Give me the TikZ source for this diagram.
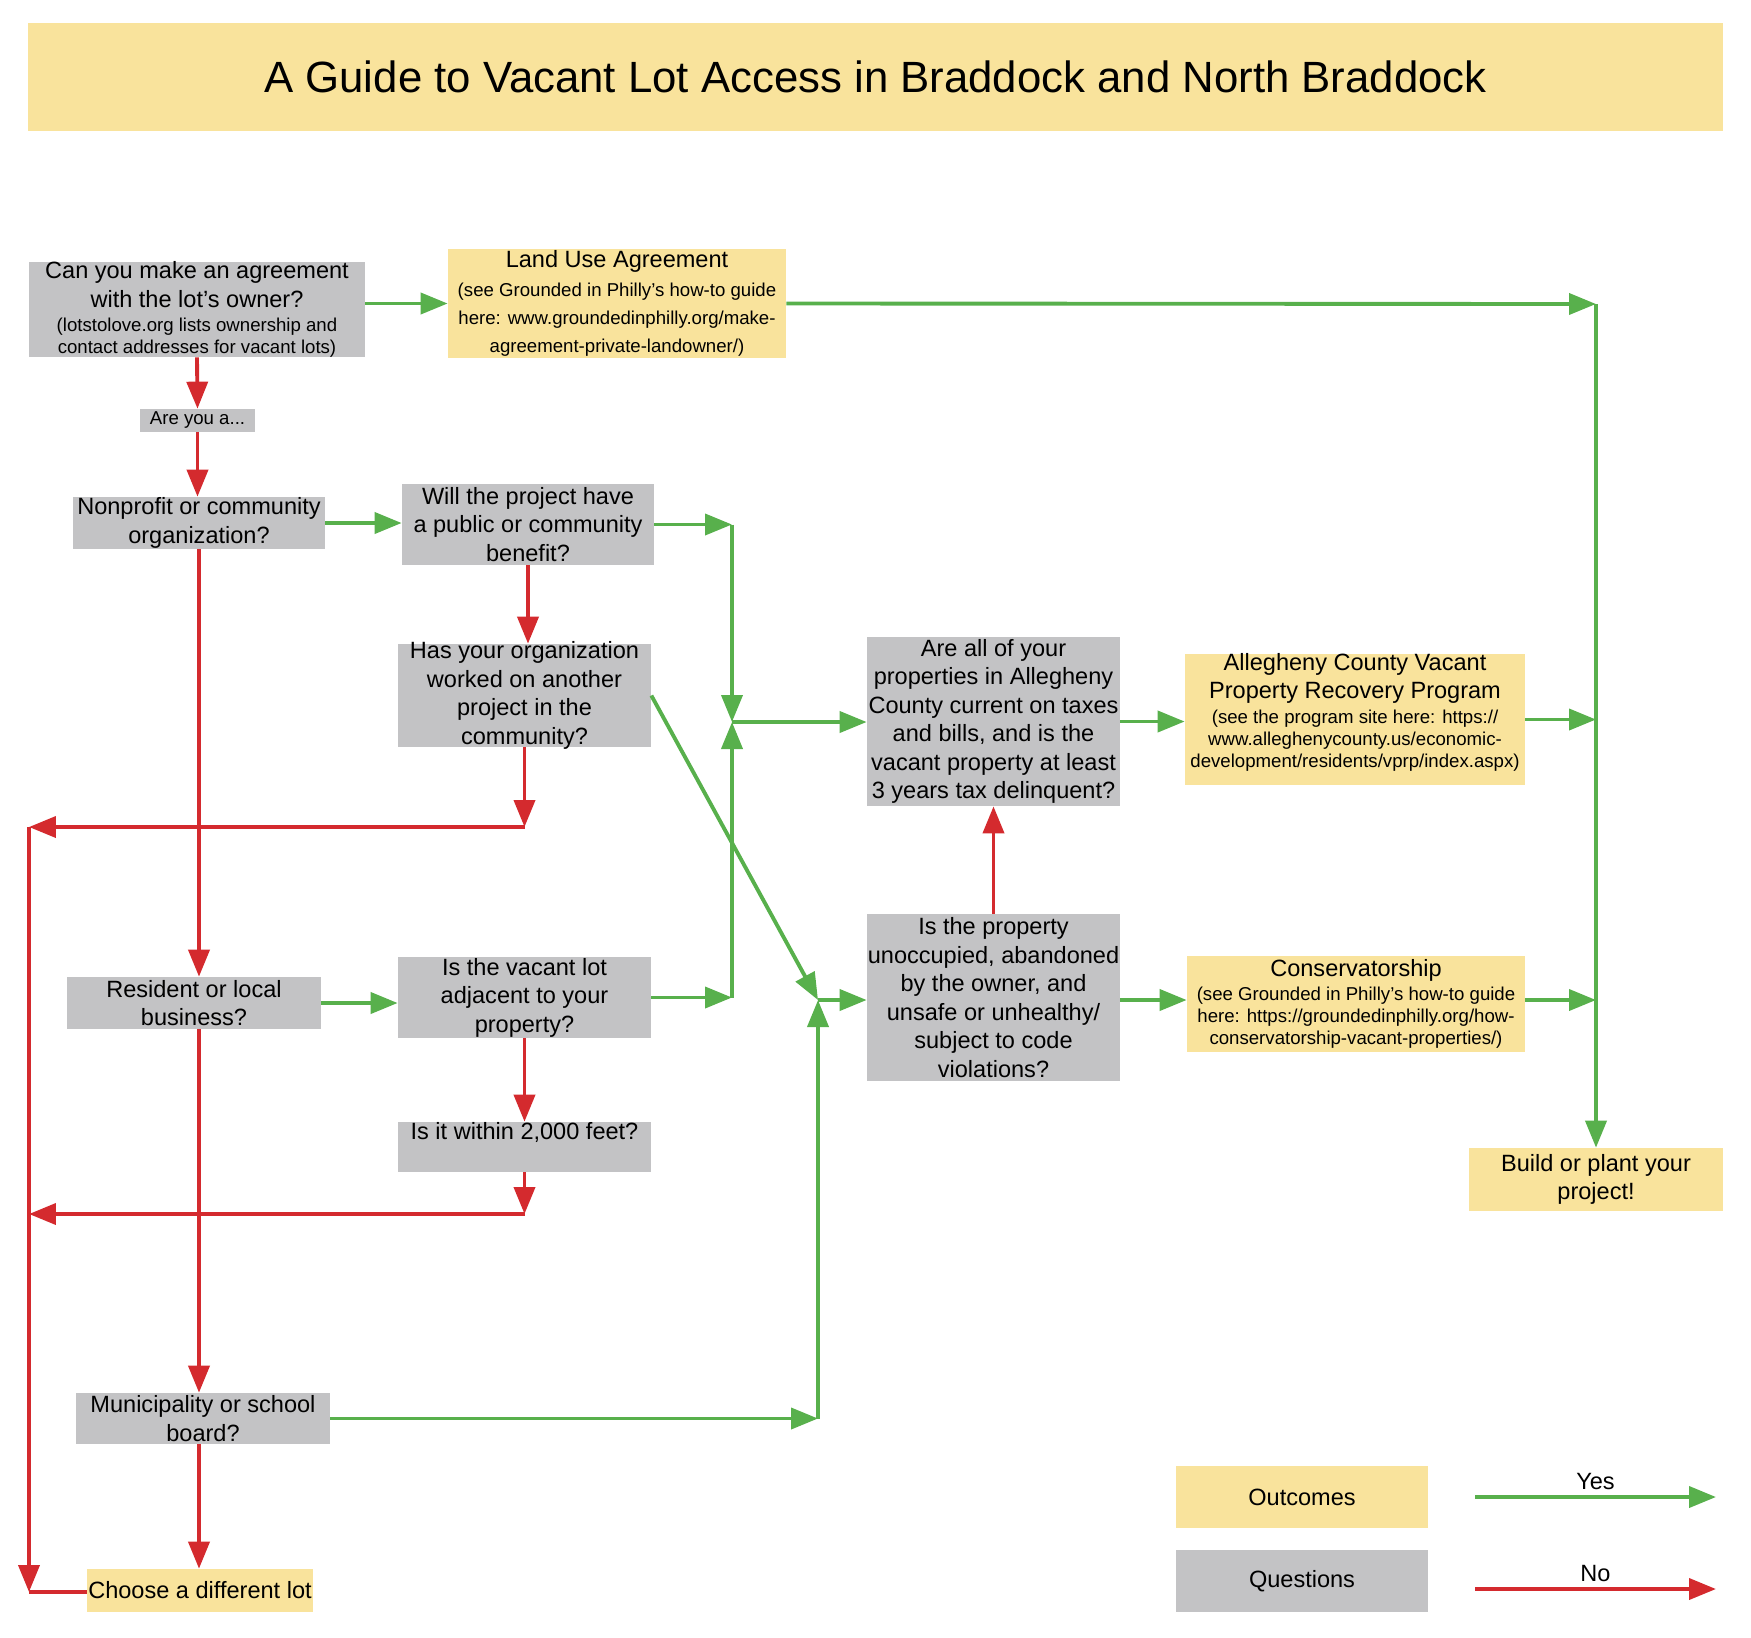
\documentclass[tikz,border=0pt]{standalone}
\usepackage{fontspec}
\setmainfont{Liberation Sans}
\usetikzlibrary{fit}
\usetikzlibrary{arrows.meta}
\definecolor{qgray}{RGB}{195,195,197}
\definecolor{oyellow}{RGB}{249,227,156}
\definecolor{ygreen}{RGB}{88,176,76}
\definecolor{nred}{RGB}{212,42,46}
\newcommand{\mainsize}{\fontsize{13.4}{16.2}\selectfont}
\newcommand{\notesize}{\fontsize{10.6}{12.7}\selectfont}
\newcommand{\widenote}{\fontsize{10.6}{16}\selectfont}
\tikzset{qbox/.style={rectangle, fill=qgray, inner sep=0pt}}
\tikzset{obox/.style={rectangle, fill=oyellow, inner sep=0pt}}
\tikzset{every label/.style={align=center, inner sep=0pt, font=\mainsize}}
\tikzset{yesline/.style={draw=ygreen, line width=2.2pt, -{Triangle[length=0.54cm, width=0.42cm]}}}
\tikzset{noline/.style={draw=nred, line width=2.2pt, -{Triangle[length=0.54cm, width=0.42cm]}}}

\begin{document}
\begin{tikzpicture}[x=0.02cm, y=-0.02cm]

    \useasboundingbox (0,0) rectangle (1751,1637);

    \node[obox, fit={(28,23) (1723,131)}, label={[font=\fontsize{24.9}{30}\selectfont]center:A Guide to Vacant Lot Access in Braddock and North Braddock}] (title) {};

    \node[qbox, fit={(29,262) (365,357)}, label={[font=\notesize]center:{\mainsize Can you make an agreement\\[3.5pt]\mainsize with the lot’s owner?\\[1pt](lotstolove.org lists ownership and\\contact addresses for vacant lots)}}] (can) {};
    \node[obox, fit={(448,249) (786,358)}, label={[font=\widenote]center:{\mainsize Land Use Agreement\\(see Grounded in Philly’s how-to guide\\here: www.groundedinphilly.org/make-\\agreement-private-landowner/)}}] (land) {};
    \node[qbox, fit={(140,409) (255,432)}, label={[font=\notesize]center:{Are you a...}}] (areyou) {};

    \node[qbox, fit={(73,497) (325,549)}, label=center:{Nonprofit or community\\organization?}] (nonprofit) {};
    \node[qbox, fit={(402,484) (654,565)}, label=center:{Will the project have\\a public or community\\benefit?}] (will) {};
    \node[qbox, fit={(398,644) (651,747)}, label=center:{Has your organization\\worked on another\\project in the\\community?}] (has) {};

    \node[qbox, fit={(67,977) (321,1029)}, label=center:{Resident or local\\business?}] (resident) {};
    \node[qbox, fit={(398,957) (651,1038)}, label=center:{Is the vacant lot\\adjacent to your\\property?}] (vacant) {};
    \node[qbox, fit={(398,1122) (651,1172)}, label={[yshift=8.5pt]center:{Is it within 2,000 feet?}}] (within) {};

    \node[qbox, fit={(76,1393) (330,1444)}, label=center:{Municipality or school\\board?}] (muni) {};
    \node[obox, fit={(87,1569) (313,1612)}, label=center:{Choose a different lot}] (choose) {};

    \node[qbox, fit={(867,637) (1120,806)}, label=center:{Are all of your\\properties in Allegheny\\County current on taxes\\and bills, and is the\\vacant property at least\\3 years tax delinquent?}] (areall) {};
    \node[qbox, fit={(867,914) (1120,1081)}, label=center:{Is the property\\unoccupied, abandoned\\by the owner, and\\unsafe or unhealthy/\\subject to code\\violations?}] (isprop) {};

    \node[obox, fit={(1185,654) (1525,785)}, label={[font=\notesize, yshift=4pt]center:{\mainsize Allegheny County Vacant\\[3.5pt]\mainsize Property Recovery Program\\[1pt](see the program site here: https://\\www.alleghenycounty.us/economic-\\development/residents/vprp/index.aspx)}}] (alleg) {};
    \node[obox, fit={(1187,956) (1525,1052)}, label={[font=\notesize]center:{\mainsize Conservatorship\\[1pt](see Grounded in Philly’s how-to guide\\here: https://groundedinphilly.org/how-\\conservatorship-vacant-properties/)}}] (conserv) {};
    \node[obox, fit={(1469,1148) (1723,1211)}, label=center:{Build or plant your\\project!}] (build) {};

    \coordinate (top) at (1596,304);
    \coordinate (j1) at (732,722);
    \coordinate (j2) at (818,1000);
    \coordinate (back1) at (29,827);
    \coordinate (back2) at (29,1214);
    \coordinate (corner) at (29,1592);

    \draw[yesline] (can.east |- land.west) -- (land.west);
    \draw[yesline] (land.east) -- (top);
    \draw[yesline] (top) -- (build.north);
    \draw[yesline] (nonprofit.east) -- (nonprofit.east -| will.west);
    \draw[yesline] (will.east) -- (will.east -| j1);
    \draw[yesline] (will.east -| j1) -- (j1);
    \draw[yesline] (vacant.east) -- (vacant.east -| j1);
    \draw[yesline] (vacant.east -| j1) -- (j1);
    \draw[yesline] (j1) -- (j1 -| areall.west);
    \draw[yesline] (areall.east) -- (areall.east -| alleg.west);
    \draw[yesline] (alleg.east) -- (alleg.east -| top);
    \draw[yesline] (has.east) -- (j2);
    \draw[yesline] (resident.east) -- (resident.east -| vacant.west);
    \draw[yesline] (muni.east) -- (muni.east -| j2);
    \draw[yesline] (muni.east -| j2) -- (j2);
    \draw[yesline] (j2) -- (j2 -| isprop.west);
    \draw[yesline] (isprop.east |- j2) -- (j2 -| conserv.west);
    \draw[yesline] (conserv.east |- j2) -- (j2 -| top);

    \draw[noline] (can.south) -- (areyou.north);
    \draw[noline] (areyou.south) -- (areyou.south |- nonprofit.north);
    \draw[noline] (nonprofit.south) -- (nonprofit.south |- resident.north);
    \draw[noline] (nonprofit.south |- resident.south) -- (nonprofit.south |- muni.north);
    \draw[noline] (nonprofit.south |- muni.south) -- (nonprofit.south |- choose.north);
    \draw[noline] (will.south) -- (will.south |- has.north);
    \draw[noline] (has.south) -- (has.south |- back1);
    \draw[noline] (has.south |- back1) -- (back1);
    \draw[noline] (back1) -- (corner);
    \draw[nred, line width=2.2pt] (corner) -- (corner -| choose.west);
    \draw[noline] (vacant.south) -- (within.north);
    \draw[noline] (within.south) -- (within.south |- back2);
    \draw[noline] (within.south |- back2) -- (back2);
    \draw[noline] (isprop.north) -- (areall.south);

    \node[obox, fit={(1176,1466) (1428,1528)}, label=center:Outcomes] (outcomes) {};
    \node[qbox, fit={(1176,1550) (1428,1612)}, label=center:Questions] (questions) {};
    \coordinate (yesa) at (1475,1497);
    \coordinate (yesb) at (1716,1497);
    \coordinate (noa) at (1475,1589);
    \coordinate (nob) at (1716,1589);
    \draw[yesline] (yesa) -- node[above, font=\mainsize] (yestxt) {Yes} (yesb);
    \draw[noline] (noa) -- node[above, font=\mainsize] (notxt) {No} (nob);

\end{tikzpicture}
\end{document}
